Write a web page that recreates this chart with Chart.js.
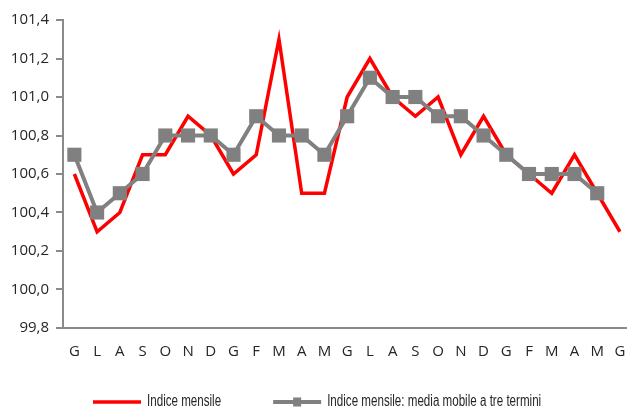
<!DOCTYPE html>
<html>
<head>
<meta charset="utf-8">
<script src="https://cdn.jsdelivr.net/npm/chart.js@4/dist/chart.umd.min.js"></script>
<style>
  html, body { margin: 0; padding: 0; background: #ffffff; }
  #wrap { width: 627px; height: 407px; }
</style>
</head>
<body>
<div id="wrap"><canvas id="c" width="627" height="407"></canvas></div>
<script>
// Month initials (Italian), two and a bit years
const months = ['G','L','A','S','O','N','D','G','F','M','A','M','G','L','A','S','O','N','D','G','F','M','A','M','G'];

// Monthly index
const indiceMensile = [100.6, 100.3, 100.4, 100.7, 100.7, 100.9, 100.8, 100.6, 100.7, 101.3, 100.5, 100.5,
                       101.0, 101.2, 101.0, 100.9, 101.0, 100.7, 100.9, 100.7, 100.6, 100.5, 100.7, 100.5, 100.3];

// Three-term moving average of the monthly index
const mediaMobile = [100.7, 100.4, 100.5, 100.6, 100.8, 100.8, 100.8, 100.7, 100.9, 100.8, 100.8, 100.7,
                     100.9, 101.1, 101.0, 101.0, 100.9, 100.9, 100.8, 100.7, 100.6, 100.6, 100.6, 100.5, null];

const yTickValues = [99.8, 100.0, 100.2, 100.4, 100.6, 100.8, 101.0, 101.2, 101.4];

const seriesLabels = ['Indice mensile', 'Indice mensile: media mobile a tre termini'];

const RED = '#ff0000';
const GREY = '#808080';
const AXIS = '#8a8a8a';
const TEXT = '#262626';

const toPoints = arr => arr.map((v, i) => ({ x: i, y: v }));

// Legend along the bottom edge: line sample (with marker for the average) and a condensed label
const bottomLegend = {
  id: 'bottomLegend',
  afterDraw(chart) {
    const ctx = chart.ctx;
    const lineY = 402, baseY = 406;
    const sampleW = 48, textGap = 6, itemGap = 52;
    const squeeze = 0.725;
    ctx.save();
    ctx.font = '16px "Liberation Sans", Arial, sans-serif';
    ctx.textBaseline = 'alphabetic';
    const items = chart.data.datasets.map(ds => ({
      label: ds.label,
      color: ds.borderColor,
      marker: ds.pointStyle === 'rect',
      lw: ds.pointStyle === 'rect' ? 4 : 3.3,
      tw: ctx.measureText(ds.label).width * squeeze
    }));
    let total = 0;
    items.forEach((it, i) => { total += sampleW + textGap + it.tw + (i ? itemGap : 0); });
    let x = Math.round((chart.width - total) / 2) + 4;
    items.forEach(it => {
      ctx.strokeStyle = it.color;
      ctx.lineWidth = it.lw;
      ctx.beginPath();
      ctx.moveTo(x, lineY);
      ctx.lineTo(x + sampleW, lineY);
      ctx.stroke();
      if (it.marker) {
        ctx.fillStyle = it.color;
        ctx.fillRect(x + sampleW / 2 - 4, lineY - 4.5, 8, 9);
      }
      ctx.fillStyle = TEXT;
      ctx.save();
      ctx.translate(x + sampleW + textGap, baseY);
      ctx.scale(squeeze, 1);
      ctx.fillText(it.label, 0, 0);
      ctx.restore();
      x += sampleW + textGap + it.tw + itemGap;
    });
    ctx.restore();
  }
};

new Chart(document.getElementById('c'), {
  type: 'line',
  data: {
    datasets: [
      {
        label: seriesLabels[0],
        data: toPoints(indiceMensile),
        borderColor: RED,
        backgroundColor: RED,
        borderWidth: 3.5,
        pointRadius: 0,
        tension: 0,
        order: 1
      },
      {
        label: seriesLabels[1],
        data: toPoints(mediaMobile),
        borderColor: GREY,
        backgroundColor: GREY,
        borderWidth: 4,
        pointStyle: 'rect',
        pointRadius: 10,
        pointBackgroundColor: GREY,
        pointBorderWidth: 0,
        tension: 0,
        spanGaps: false,
        order: 0
      }
    ]
  },
  options: {
    responsive: false,
    animation: false,
    layout: { autoPadding: false, padding: { top: 20, right: 0, bottom: 31, left: 0 } },
    plugins: {
      legend: { display: false },
      tooltip: { enabled: false }
    },
    scales: {
      x: {
        type: 'linear',
        min: -0.5,
        max: 24.31,
        afterBuildTicks: scale => { scale.ticks = months.map((_, i) => ({ value: i })); },
        afterFit: scale => { scale.paddingRight = 0; scale.paddingLeft = 0; },
        ticks: {
          callback: v => months[v],
          color: TEXT,
          font: { family: '"Open Sans", sans-serif', size: 15 },
          padding: 15,
          autoSkip: false,
          maxRotation: 0
        },
        grid: { display: false, drawTicks: false },
        border: { display: true, color: AXIS, width: 2 }
      },
      y: {
        min: 99.8,
        max: 101.4,
        afterBuildTicks: scale => { scale.ticks = yTickValues.map(v => ({ value: v })); },
        afterFit: scale => { scale.width = 63; },
        ticks: {
          callback: v => v.toFixed(1).replace('.', ','),
          color: TEXT,
          font: { family: '"Open Sans", sans-serif', size: 15 },
          padding: 7
        },
        grid: { drawOnChartArea: false, drawTicks: true, tickLength: 7, color: AXIS, lineWidth: 2 },
        border: { display: true, color: AXIS, width: 2 }
      }
    }
  },
  plugins: [bottomLegend]
});
</script>
</body>
</html>
